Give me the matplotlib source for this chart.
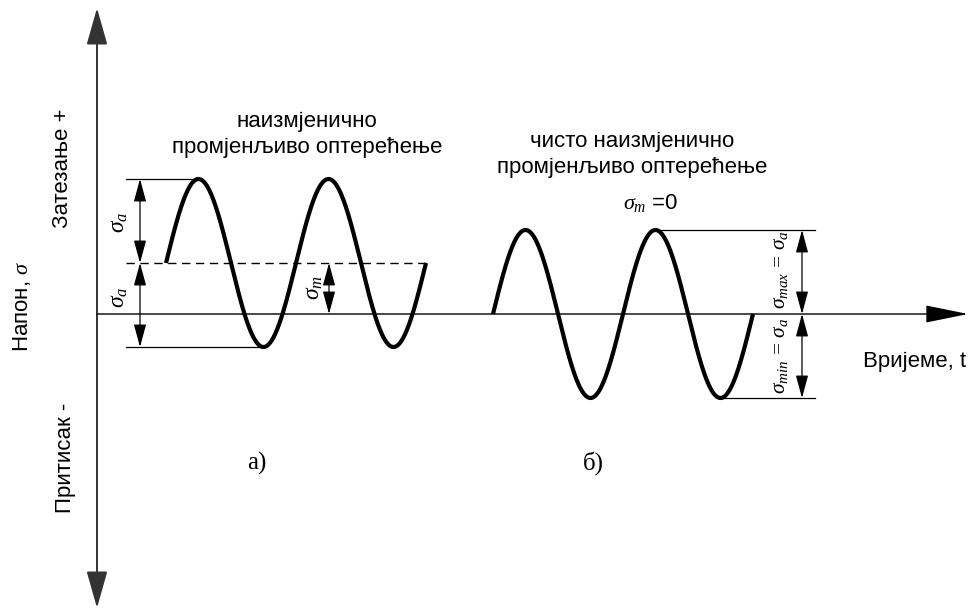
import numpy as np
import matplotlib.pyplot as plt

plt.rcParams["mathtext.fontset"] = "custom"
plt.rcParams["mathtext.rm"] = "Liberation Serif"
plt.rcParams["mathtext.it"] = "Liberation Serif:italic"
plt.rcParams["mathtext.sf"] = "Liberation Sans"

SANS = "Liberation Sans"
SERIF = "Liberation Serif"

# drawing units: time t to the right, stress sigma upward, sigma = 0 on the time axis
sigma_a = 84          # stress amplitude
sigma_m = 51          # mean stress of case a)
period = 130
cycles = 2
start_a = 166         # where curve a) begins
start_b = 493         # where curve b) begins

t_axis = [97, 968]    # time axis (origin, arrow tip)
s_axis = [-294, 306]  # stress axis (bottom tip, top tip)


def wave(start, mean):
    t = np.linspace(start, start + cycles * period, 500)
    s = mean + sigma_a * np.sin(2 * np.pi * (t - start) / period)
    return t, s


def dim_arrow(ax, t, s0, s1):
    ax.annotate("", xy=(t, s1), xytext=(t, s0),
                arrowprops=dict(arrowstyle="<|-|>,head_length=1.4,head_width=0.38",
                                mutation_scale=10, lw=0.9, color="black",
                                shrinkA=0, shrinkB=0))


fig = plt.figure(figsize=(9.74, 6.14), dpi=100)
ax = fig.add_axes([0, 0, 1, 1])
ax.set_xlim(0, 974)
ax.set_ylim(314 - 614, 314)
ax.axis("off")

# axes of the diagram
ax.annotate("", xy=(t_axis[0], s_axis[1]), xytext=(t_axis[0], s_axis[0]),
            arrowprops=dict(arrowstyle="<|-|>,head_length=2.3,head_width=0.65",
                            mutation_scale=10, lw=1.4, color="#333333",
                            shrinkA=0, shrinkB=0))
ax.annotate("", xy=(t_axis[1], 0), xytext=(t_axis[0], 0),
            arrowprops=dict(arrowstyle="-|>,head_length=2.7,head_width=0.55",
                            mutation_scale=10, lw=1.0, color="black",
                            shrinkA=0, shrinkB=0))

# a) alternating load with a mean stress
ta, sa = wave(start_a, sigma_m)
ax.plot(ta, sa, color="black", lw=3.0, solid_capstyle="butt")
ax.plot([126, start_a + cycles * period + 2], [sigma_m, sigma_m], color="black",
        lw=1.0, linestyle=(0, (6, 4)))
ax.plot([126, start_a + period / 4], [sigma_m + sigma_a] * 2, color="black", lw=0.9)
ax.plot([126, start_a + 3 * period / 4], [sigma_m - sigma_a] * 2, color="black", lw=0.9)
dim_arrow(ax, 140, sigma_m, sigma_m + sigma_a)
dim_arrow(ax, 140, sigma_m, sigma_m - sigma_a)
dim_arrow(ax, 329, 0, sigma_m)

# b) fully reversed load, sigma_m = 0
tb, sb = wave(start_b, 0)
ax.plot(tb, sb, color="black", lw=3.0, solid_capstyle="butt")
ax.plot([start_b + 1.25 * period, 815], [sigma_a] * 2, color="black", lw=0.9)
ax.plot([start_b + 1.75 * period, 815], [-sigma_a] * 2, color="black", lw=0.9)
dim_arrow(ax, 802, 0, sigma_a)
dim_arrow(ax, 802, 0, -sigma_a)

# labels
ax.text(63, 314 - 168, "Затезање +", rotation=90, ha="center", va="center",
        family=SANS, fontsize=16)
ax.text(22, 314 - 306, r"Напон, $\sigma$", rotation=90, ha="center", va="center",
        family=SANS, fontsize=16)
ax.text(65, 314 - 458, "Притисак -", rotation=90, ha="center", va="center",
        family=SANS, fontsize=16)
ax.text(966, 314 - 362, "Вријеме, t", ha="right", va="center",
        family=SANS, fontsize=16)

ax.text(307, 314 - 122, "наизмјенично", ha="center", va="center",
        family=SANS, fontsize=16)
ax.text(307, 314 - 148, "промјенљиво оптерећење", ha="center", va="center",
        family=SANS, fontsize=16)
ax.text(632, 314 - 142, "чисто наизмјенично", ha="center", va="center",
        family=SANS, fontsize=16)
ax.text(632, 314 - 167, "промјенљиво оптерећење", ha="center", va="center",
        family=SANS, fontsize=16)
ax.text(651, 314 - 203, r"$\sigma_m$ =0", ha="center", va="center",
        family=SANS, fontsize=16)

ax.text(118, 314 - 222, r"$\sigma_a$", rotation=90, ha="center", va="center",
        fontsize=17)
ax.text(118, 314 - 297, r"$\sigma_a$", rotation=90, ha="center", va="center",
        fontsize=17)
ax.text(313, 314 - 288, r"$\sigma_m$", rotation=90, ha="center", va="center",
        fontsize=17)
ax.text(780, 314 - 270, r"$\sigma_{max}$ = $\sigma_a$", rotation=90, ha="center",
        va="center", family=SERIF, fontsize=15.5)
ax.text(780, 314 - 356, r"$\sigma_{min}$ = $\sigma_a$", rotation=90, ha="center",
        va="center", family=SERIF, fontsize=15.5)

ax.text(257, 314 - 463, "а)", ha="center", va="center", family=SERIF, fontsize=18)
ax.text(593, 314 - 463, "б)", ha="center", va="center", family=SERIF, fontsize=18)

fig.savefig("out.png", dpi=100)
